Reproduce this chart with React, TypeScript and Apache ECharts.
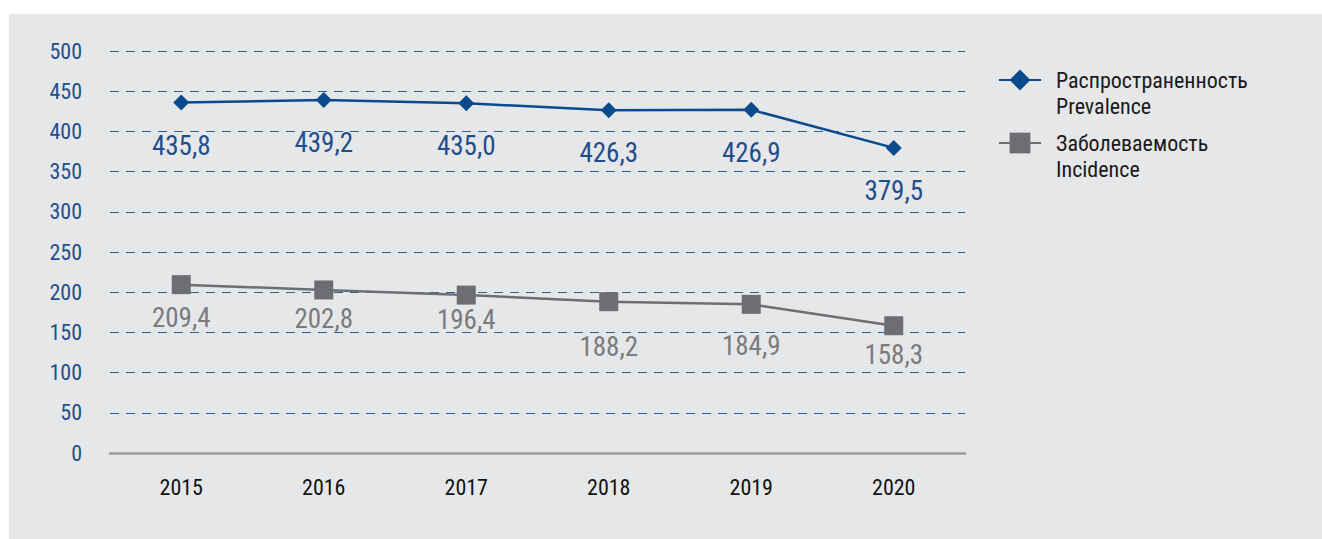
import React, { useEffect, useRef } from "react";
import * as echarts from "echarts";

const years = ["2015", "2016", "2017", "2018", "2019", "2020"];
const prevalence = [435.8, 439.2, 435.0, 426.3, 426.9, 379.5];
const incidence = [209.4, 202.8, 196.4, 188.2, 184.9, 158.3];
const incidenceLabelOffsets = [33, 29, 25, 45, 42, 29];
const prevalenceName = "Распространенность\nPrevalence";
const incidenceName = "Заболеваемость\nIncidence";

const FONT = "'Liberation Sans Narrow', 'Roboto Condensed', 'DejaVu Sans Condensed', Roboto, sans-serif";
const fmt = (v: number) => v.toFixed(1).replace(".", ",");

export default function App() {
  const ref = useRef<HTMLDivElement>(null);
  useEffect(() => {
    if (!ref.current) return;
    const chart = echarts.init(ref.current, undefined, { renderer: "svg" });
    chart.setOption({
      animation: false,
      textStyle: { fontFamily: FONT },
      graphic: [
        {
          type: "rect",
          z: -10,
          silent: true,
          shape: { x: 9, y: 14, width: 1313, height: 525 },
          style: { fill: "#e6e7e9" },
        },
      ],
      grid: { left: 110, right: 1322 - 965, top: 51, bottom: 539 - 453 },
      legend: {
        orient: "vertical",
        left: 993,
        top: 36,
        itemWidth: 42,
        itemHeight: 26,
        itemGap: -15,
        formatter: (name: string) => " \n" + name,
        textStyle: {
          fontFamily: FONT,
          fontSize: 22,
          color: "#1a1a1a",
          lineHeight: 26,
          padding: [0, 0, 0, 10],
        },
        data: [prevalenceName, incidenceName],
      },
      xAxis: {
        type: "category",
        data: years,
        boundaryGap: true,
        axisLine: { lineStyle: { color: "#9b9c9e", width: 2.5 } },
        axisTick: { show: false },
        axisLabel: { color: "#111", fontSize: 22, margin: 23, fontFamily: FONT },
      },
      yAxis: {
        type: "value",
        min: 0,
        max: 500,
        interval: 50,
        axisLine: { show: false },
        axisTick: { show: false },
        axisLabel: { color: "#1f4e8c", fontSize: 22, margin: 28, fontFamily: FONT },
        splitLine: {
          lineStyle: { color: "#2d5f9a", width: 1.2, type: [9, 7] },
        },
      },
      series: [
        {
          name: prevalenceName,
          type: "line",
          data: prevalence,
          symbol: "diamond",
          symbolSize: 16,
          lineStyle: { color: "#0b4a8c", width: 2.5 },
          itemStyle: { color: "#0b4a8c" },
          label: {
            show: true,
            position: "inside",
            offset: [0, 43],
            color: "#1f4e8c",
            fontSize: 27,
            fontFamily: FONT,
            formatter: (p: any) => fmt(p.value),
          },
          z: 3,
        },
        {
          name: incidenceName,
          type: "line",
          data: incidence.map((v, i) => ({
            value: v,
            label: { offset: [0, incidenceLabelOffsets[i]] },
          })),
          symbol: "rect",
          symbolSize: 19,
          lineStyle: { color: "#6d6e71", width: 2.5 },
          itemStyle: { color: "#6d6e71" },
          label: {
            show: true,
            position: "inside",
            color: "#7a7b7e",
            fontSize: 27,
            fontFamily: FONT,
            formatter: (p: any) => fmt(p.value),
          },
          z: 3,
        },
      ],
    });
    return () => chart.dispose();
  }, []);
  return (
    <div
      ref={ref}
      style={{ position: "fixed", left: 0, top: 0, width: 1322, height: 539, background: "#fff" }}
    />
  );
}
